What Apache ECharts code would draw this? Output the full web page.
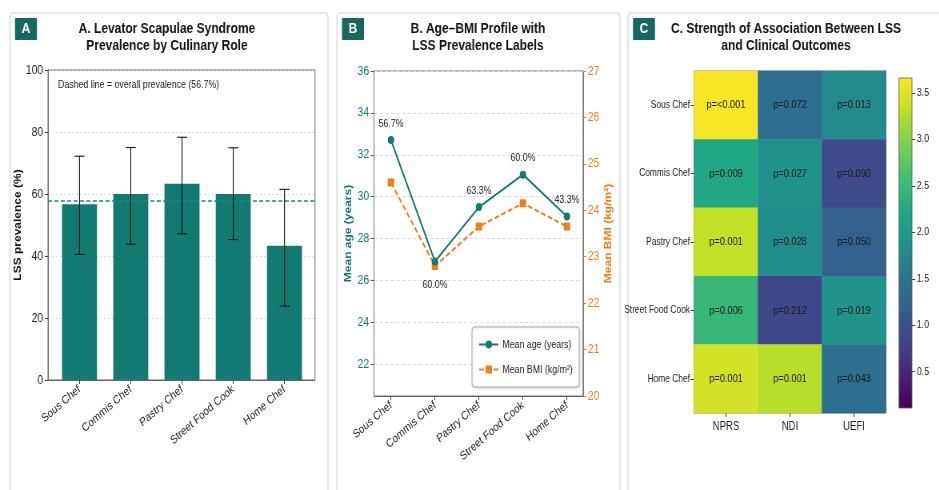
<!DOCTYPE html>
<html>
<head>
<meta charset="utf-8">
<title>LSS by culinary role</title>
<script src="https://cdn.jsdelivr.net/npm/echarts@6/dist/echarts.min.js"></script>
<style>
  html, body { margin: 0; padding: 0; background: #fff; overflow: hidden; }
  /* the figure is drawn wide and squeezed, like the narrow lettering of the original */
  #chart { width: 1174px; height: 490px; transform: scaleX(0.8); transform-origin: 0 0; }
</style>
</head>
<body>
<div id="chart"></div>
<script>
  // roles, shared by all three panels
  const roles = ['Sous Chef', 'Commis Chef', 'Pastry Chef', 'Street Food Cook', 'Home Chef']

  // A. prevalence (%) with 95% CI
  const prevalence = [56.7, 60.0, 63.3, 60.0, 43.3]
  const ciLow = [40.5, 43.8, 47.2, 45.3, 23.8]
  const ciHigh = [72.2, 75.0, 78.3, 74.9, 61.5]
  const overall = 57.7

  // B. age / BMI profile
  const meanAge = [32.7, 26.9, 29.5, 31.05, 29.05]
  const meanBmi = [24.6, 22.8, 23.65, 24.15, 23.65]
  const prevLabels = ['56.7%', '60.0%', '63.3%', '60.0%', '43.3%']
  const ageTicks = [22, 24, 26, 28, 30, 32, 34, 36]

  // C. strength of association (-log10 p) and p labels
  const outcomes = ['NPRS', 'NDI', 'UEFI']
  const strength = [
    [3.62, 1.39, 1.78],
    [2.22, 1.88, 0.92],
    [3.33, 1.81, 1.21],
    [2.45, 0.86, 1.9],
    [3.42, 3.28, 1.42]
  ]
  const pText = [
    ['p=<0.001', 'p=0.072', 'p=0.013'],
    ['p=0.009', 'p=0.027', 'p=0.090'],
    ['p=0.001', 'p=0.028', 'p=0.050'],
    ['p=0.006', 'p=0.212', 'p=0.019'],
    ['p=0.001', 'p=0.001', 'p=0.043']
  ]
  const cbarMin = 0.11
  const cbarMax = 3.66
  const cbarTicks = [0.5, 1.0, 1.5, 2.0, 2.5, 3.0, 3.5]

  const S = 0.8
  const sx = v => v / S   // screen x -> chart x
  const FONT = "'Liberation Sans', 'DejaVu Sans', sans-serif"
  const TEAL = '#127a70'
  const ORANGE = '#f07d1c'
  const BADGE = '#17695f'
  const idx = roles.map((r, i) => i)

  const viridis = ['#440154', '#482475', '#414487', '#355f8d', '#2a788e', '#21918c',
    '#22a884', '#44bf70', '#7ad151', '#bddf26', '#fde725']

  // panel frames, badges, titles
  function panel(x, w, letter, cx, lines) {
    return [
      { type: 'rect', shape: { x: sx(x), y: 13, width: sx(w), height: 500, r: 4 },
        style: { fill: '#fff', stroke: '#c5d6d6', lineWidth: 1.2 }, z: -10 },
      { type: 'rect', shape: { x: sx(x + 5), y: 18, width: sx(22), height: 22, r: 1 },
        style: { fill: BADGE }, z: 10 },
      { type: 'text', x: sx(x + 16), y: 29, z: 11,
        style: { text: letter, fill: '#fff', font: 'bold 15px ' + FONT, align: 'center', verticalAlign: 'middle' } },
      { type: 'text', x: sx(cx), y: 29, z: 11,
        style: { text: lines[0], fill: '#111', font: 'bold 15px ' + FONT, align: 'center', verticalAlign: 'middle' } },
      { type: 'text', x: sx(cx), y: 46, z: 11,
        style: { text: lines[1], fill: '#111', font: 'bold 15px ' + FONT, align: 'center', verticalAlign: 'middle' } }
    ]
  }

  const cbarFill = {
    type: 'linear', x: 0, y: 1, x2: 0, y2: 0,
    colorStops: viridis.map((c, i) => ({ offset: i / (viridis.length - 1), color: c }))
  }

  const graphics = [].concat(
    panel(10, 318, 'A', 167, ['A. Levator Scapulae Syndrome', 'Prevalence by Culinary Role']),
    panel(337, 283, 'B', 478, ['B. Age\u2013BMI Profile with', 'LSS Prevalence Labels']),
    panel(628, 330, 'C', 786, ['C. Strength of Association Between LSS', 'and Clinical Outcomes']),
    [
      { type: 'text', x: sx(58), y: 85, z: 11,
        style: { text: 'Dashed line = overall prevalence (56.7%)', fill: '#222', font: '11px ' + FONT, verticalAlign: 'middle' } }
    ]
  )

  const catAxisBase = (gridIndex, min, max) => ({
    type: 'value', gridIndex, min, max, minInterval: 1, maxInterval: 1,
    axisLine: { show: true, onZero: false, lineStyle: { color: '#666' } },
    axisTick: { show: true, length: 4, customValues: idx, lineStyle: { color: '#444' } },
    axisLabel: {
      customValues: idx, rotate: 35, fontFamily: FONT, fontSize: 12, color: '#222', margin: 8,
      formatter: v => roles[Math.round(v)]
    },
    splitLine: { show: false }
  })

  const option = {
    animation: false,
    backgroundColor: '#fff',
    textStyle: { fontFamily: FONT },
    graphic: graphics,
    grid: [
      { left: sx(48), top: 70, width: sx(267), height: 310, outerBoundsMode: 'none',
        show: true, borderColor: '#666', borderWidth: 1 },
      { left: sx(374), top: 71, width: sx(209), height: 325, outerBoundsMode: 'none',
        show: true, borderColor: '#777', borderWidth: 1 },
      { left: sx(694), top: 71, width: sx(192), height: 342, outerBoundsMode: 'none',
        show: true, borderColor: '#555', borderWidth: 0.8 },
      // colour bar
      { left: sx(899), top: 78, width: sx(13), height: 330, outerBoundsMode: 'none', show: true,
        backgroundColor: cbarFill, borderColor: '#555', borderWidth: 0.8 }
    ],
    xAxis: [
      catAxisBase(0, -0.615, 4.595),
      catAxisBase(1, -0.386, 4.364),
      {
        type: 'category', gridIndex: 2, data: outcomes,
        axisLine: { show: false },
        axisTick: { show: true, alignWithLabel: true, length: 4, lineStyle: { color: '#333' } },
        axisLabel: { fontFamily: FONT, fontSize: 12, color: '#222', margin: 8 }
      },
      { type: 'value', gridIndex: 3, show: false }
    ],
    yAxis: [
      {
        type: 'value', gridIndex: 0, min: 0, max: 100, interval: 20,
        name: 'LSS prevalence (%)', nameLocation: 'middle', nameGap: sx(23),
        nameTextStyle: { fontFamily: FONT, fontWeight: 'bold', fontSize: 12, color: '#111' },
        axisLine: { show: true, onZero: false, lineStyle: { color: '#666' } },
        axisTick: { show: true, length: 4, lineStyle: { color: '#444' } },
        axisLabel: { fontFamily: FONT, fontSize: 13, color: '#222', margin: 6 },
        splitLine: { show: true, lineStyle: { color: '#d8d8d8', type: [2, 3] } }
      },
      {
        type: 'value', gridIndex: 1, min: 20.48, max: 36, minInterval: 2, maxInterval: 2, splitNumber: 8,
        name: 'Mean age (years)', nameLocation: 'middle', nameGap: sx(21),
        nameTextStyle: { fontFamily: FONT, fontWeight: 'bold', fontSize: 12, color: TEAL },
        axisLine: { show: true, onZero: false, lineStyle: { color: '#777' } },
        axisTick: { show: true, length: 4, customValues: ageTicks, lineStyle: { color: TEAL } },
        axisLabel: { customValues: ageTicks, fontFamily: FONT, fontSize: 13, color: TEAL, margin: 6 },
        splitLine: { show: true, lineStyle: { color: '#dcdcdc', type: [4, 3] } }
      },
      {
        type: 'value', gridIndex: 1, position: 'right', min: 20, max: 27, interval: 1,
        name: 'Mean BMI (kg/m\u00b2)', nameLocation: 'middle', nameGap: sx(21),
        nameTextStyle: { fontFamily: FONT, fontWeight: 'bold', fontSize: 12, color: ORANGE },
        axisLine: { show: true, onZero: false, lineStyle: { color: '#777' } },
        axisTick: { show: true, length: 4, lineStyle: { color: ORANGE } },
        axisLabel: { fontFamily: FONT, fontSize: 13, color: ORANGE, margin: 6 },
        splitLine: { show: false }
      },
      {
        type: 'category', gridIndex: 2, data: roles, inverse: true,
        axisLine: { show: false },
        axisTick: { show: true, alignWithLabel: true, length: 4, lineStyle: { color: '#333' } },
        axisLabel: { fontFamily: FONT, fontSize: 10.5, color: '#222', margin: 5 }
      },
      {
        type: 'value', gridIndex: 3, position: 'right', min: cbarMin, max: cbarMax,
        minInterval: 0.5, maxInterval: 0.5,
        name: '\u2212log\u2081\u2080(p)', nameLocation: 'middle', nameGap: sx(31), nameRotate: 90,
        nameTextStyle: { fontFamily: FONT, fontSize: 11, color: '#222' },
        axisLine: { show: false, onZero: false },
        axisTick: { show: true, length: 4, customValues: cbarTicks, lineStyle: { color: '#444' } },
        axisLabel: { show: true, customValues: cbarTicks, fontFamily: FONT, fontSize: 11, color: '#222', margin: 6,
          formatter: v => v.toFixed(1) },
        splitLine: { show: false }
      }
    ],
    legend: {
      data: ['Mean age (years)', 'Mean BMI (kg/m\u00b2)'],
      orient: 'vertical', left: sx(472), top: 327,
      padding: [12, 8, 12, 8], itemGap: 14, itemWidth: 24, itemHeight: 10,
      backgroundColor: '#fff', borderColor: '#aaa', borderWidth: 1, borderRadius: 3,
      shadowColor: 'rgba(0,0,0,0.15)', shadowBlur: 3, shadowOffsetX: 1, shadowOffsetY: 1,
      textStyle: { fontFamily: FONT, fontSize: 11, color: '#222' }
    },
    visualMap: {
      type: 'continuous', seriesIndex: 4, dimension: 2, show: false,
      min: cbarMin, max: cbarMax,
      inRange: { color: viridis }
    },
    series: [
      {
        type: 'bar', xAxisIndex: 0, yAxisIndex: 0, barWidth: sx(35),
        data: prevalence.map((v, i) => [i, v]),
        itemStyle: { color: TEAL },
        markLine: {
          silent: true, symbol: 'none', label: { show: false },
          lineStyle: { color: '#1a8a7e', type: [5, 3], width: 1.5 },
          data: [{ yAxis: overall }]
        }
      },
      {
        type: 'custom', xAxisIndex: 0, yAxisIndex: 0, z: 5,
        data: idx.map(i => [i, ciLow[i], ciHigh[i]]),
        renderItem: (params, api) => {
          const top = api.coord([api.value(0), api.value(2)])
          const bot = api.coord([api.value(0), api.value(1)])
          const cap = sx(5)
          const st = { stroke: '#111', lineWidth: 1.1 }
          return {
            type: 'group',
            children: [
              { type: 'line', shape: { x1: top[0], y1: top[1], x2: bot[0], y2: bot[1] }, style: st },
              { type: 'line', shape: { x1: top[0] - cap, y1: top[1], x2: top[0] + cap, y2: top[1] }, style: st },
              { type: 'line', shape: { x1: bot[0] - cap, y1: bot[1], x2: bot[0] + cap, y2: bot[1] }, style: st }
            ]
          }
        }
      },
      {
        name: 'Mean age (years)', type: 'line', xAxisIndex: 1, yAxisIndex: 1,
        data: meanAge.map((v, i) => ({
          value: [i, v],
          label: i === 1 ? { position: 'bottom', distance: 14 } : undefined
        })),
        symbol: 'circle', symbolSize: 8,
        lineStyle: { color: TEAL, width: 2 }, itemStyle: { color: TEAL },
        label: {
          show: true, position: 'top', distance: 7, fontFamily: FONT, fontSize: 11, color: '#222',
          formatter: p => prevLabels[p.dataIndex]
        },
        z: 4
      },
      {
        name: 'Mean BMI (kg/m\u00b2)', type: 'line', xAxisIndex: 1, yAxisIndex: 2,
        data: meanBmi.map((v, i) => [i, v]),
        symbol: 'rect', symbolSize: 8,
        lineStyle: { color: ORANGE, width: 2, type: [6, 3] }, itemStyle: { color: ORANGE },
        z: 3
      },
      {
        type: 'heatmap', xAxisIndex: 2, yAxisIndex: 3,
        data: [].concat(...strength.map((row, r) => row.map((v, c) => [c, r, v]))),
        label: {
          show: true, fontFamily: FONT, fontSize: 11.5, color: '#1a1a1a',
          formatter: p => pText[p.value[1]][p.value[0]]
        },
        itemStyle: { borderWidth: 0 }
      }
    ]
  }

  const chart = echarts.init(document.getElementById('chart'), null, { renderer: 'canvas' })
  chart.setOption(option)
</script>
</body>
</html>
